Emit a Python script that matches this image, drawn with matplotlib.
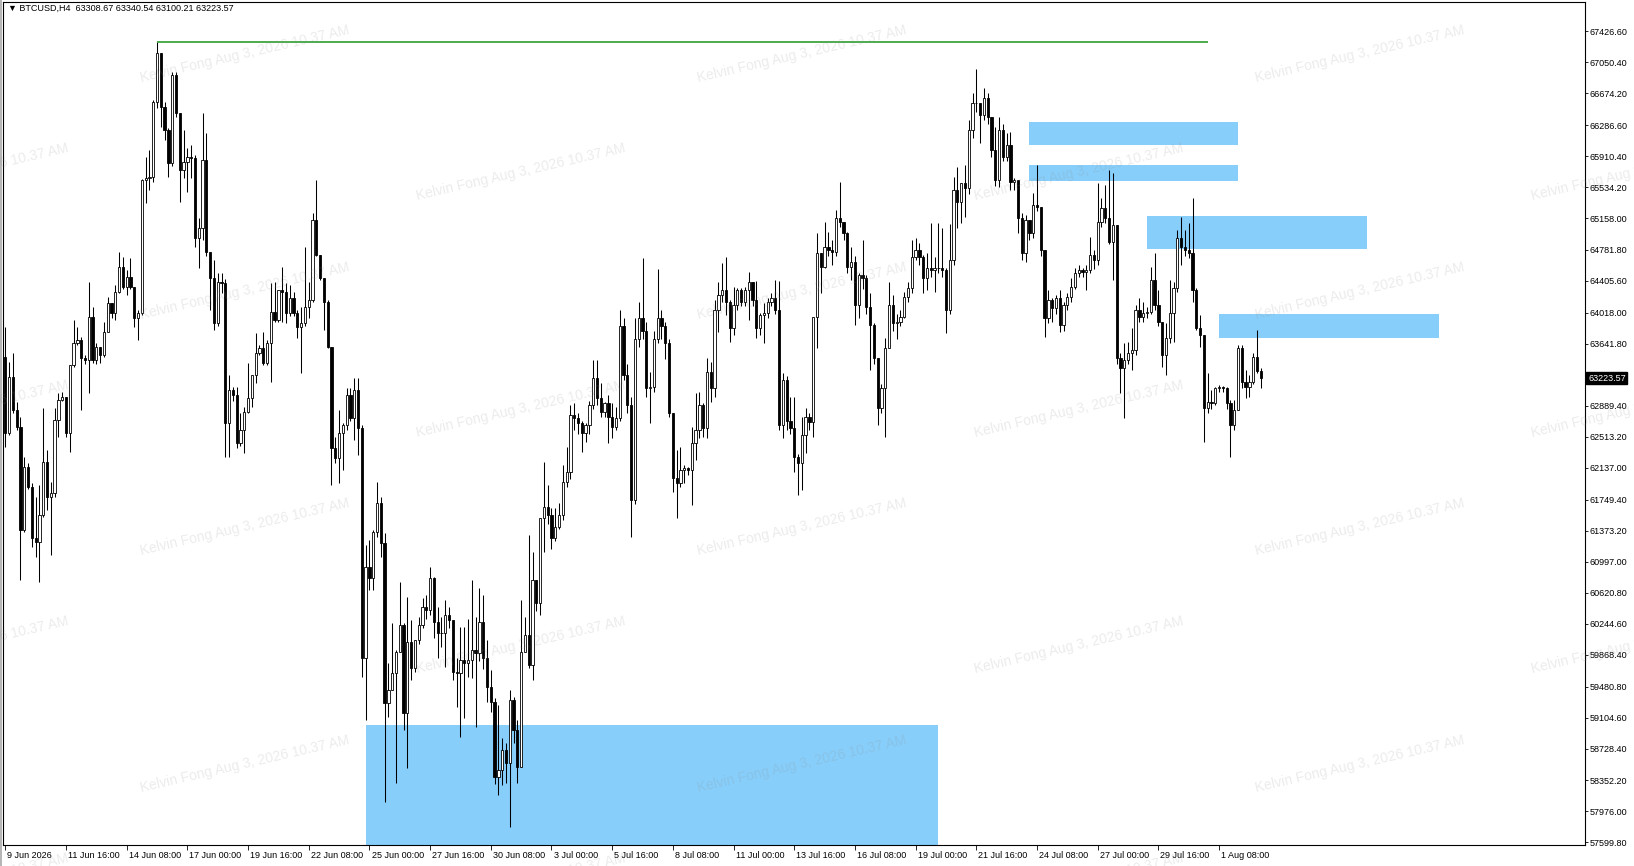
import matplotlib

matplotlib.use("Agg")
import matplotlib.pyplot as plt
import matplotlib.transforms as mtransforms
from matplotlib.lines import Line2D
from matplotlib.patches import Rectangle

FONT = ["Liberation Sans", "DejaVu Sans"]

header = "\u25bc BTCUSD,H4  63308.67 63340.54 63100.21 63223.57"
last_price = 63223.57

# H4 candles from 9 Jun 2026 00:00, one per 4 hours (open = previous close)
first_open = 63483
closes = [
    62554, 63241, 62837, 62635, 61382, 62150, 61908, 61281, 61241, 61564,
    62211, 61786, 61826, 62716, 62958, 62998, 62554, 63382, 63645, 63685,
    63463, 63443, 63968, 63443, 63604, 63503, 63786, 64130, 64009, 64271,
    64574, 64332, 64453, 64332, 63948, 64009, 65624, 65645, 65664, 66573,
    67159, 66513, 66230, 65826, 66897, 66432, 65745, 65846, 65908, 65886,
    64917, 65038, 65866, 64755, 64432, 63887, 64392, 64372, 62675, 63079,
    63019, 62433, 62594, 62817, 62978, 63261, 63524, 63584, 63402, 63645,
    64029, 63928, 64291, 64271, 64009, 64190, 64009, 63847, 63887, 64089,
    64170, 65140, 64715, 64433, 64150, 63604, 62372, 62251, 62554, 62655,
    63019, 62736, 63079, 62615, 59827, 60938, 60797, 61362, 61706, 61221,
    59282, 59443, 59645, 59908, 60231, 59160, 60029, 59706, 60049, 60231,
    60453, 60413, 60796, 60271, 60130, 60130, 60352, 60291, 59665, 59645,
    59807, 59766, 59807, 59928, 59887, 60271, 59827, 59484, 59302, 58393,
    58474, 58716, 58554, 59322, 58958, 58514, 59908, 60110, 59746, 60776,
    60493, 61524, 61665, 61564, 61281, 61423, 61564, 61968, 62089, 62776,
    62736, 62675, 62554, 62655, 62897, 63221, 62978, 62817, 62917, 62756,
    62635, 62736, 63850, 63261, 62897, 61746, 63700, 63950, 63800, 63100,
    63120, 63700, 63950, 63850, 63650, 62796, 62009, 61948, 62110, 62130,
    62110, 62433, 62594, 62897, 62615, 63301, 63100, 64049, 64231, 64291,
    64150, 63827, 64110, 64291, 64150, 64291, 64392, 64170, 63827, 63988,
    64009, 64150, 64190, 64049, 62655, 63200, 62700, 62614, 62271, 62190,
    62534, 62756, 62695, 63968, 64736, 64574, 64816, 64776, 64756, 65160,
    65120, 64978, 64574, 64635, 64110, 64473, 64433, 64089, 63867, 63463,
    62857, 63100, 63584, 64110, 63887, 63900, 63968, 64211, 64311, 64695,
    64776, 64695, 64433, 64554, 64534, 64554, 64554, 64534, 64049, 64655,
    65503, 65362, 65584, 65523, 66230, 66554, 66554, 66412, 66614, 66392,
    65988, 65624, 66230, 65907, 66049, 65604, 65624, 65160, 64736, 65140,
    64978, 65322, 65301, 64776, 63948, 64170, 64069, 64190, 63867, 64110,
    64210, 64332, 64494, 64534, 64514, 64534, 64715, 64655, 65120, 65281,
    65160, 64877, 65079, 63463, 63342, 63443, 63524, 63564, 64049, 63968,
    64009, 64029, 64412, 64110, 63908, 63504, 63706, 64009, 64312, 64917,
    64816, 64776, 64736, 64291, 63827, 63746, 62857, 62938, 62917, 63100,
    63120, 63100, 62917, 62655, 62837, 63584, 63181, 63120, 63181, 63483,
    63308.67, 63223.57,
]
highs = [
    63847, 63423, 63524, 62938, 62756, 62271, 62200, 61948, 61786, 61928,
    62857, 62352, 61968, 62857, 63039, 63060, 62998, 63382, 63928, 63847,
    63726, 63500, 64392, 64089, 63650, 63604, 63908, 64211, 64130, 64352,
    64756, 64695, 64534, 64675, 64332, 64050, 65640, 65907, 65987, 66594,
    67293, 67159, 66573, 66250, 66937, 66937, 66432, 66230, 66008, 66050,
    65927, 65160, 66432, 66190, 64755, 64655, 64500, 64500, 64420, 63261,
    63120, 63120, 62796, 62877, 63402, 63261, 63766, 63625, 63786, 63685,
    64372, 64392, 64291, 64574, 64372, 64352, 64271, 64050, 64089, 64816,
    64392, 65220, 65624, 64715, 64433, 64170, 63604, 62514, 62837, 62675,
    63100, 63100, 63221, 63221, 62650, 61200, 61261, 61383, 61968, 61786,
    61342, 59766, 60251, 59928, 60756, 60251, 60574, 60291, 60049, 60332,
    60554, 60600, 60938, 60817, 60453, 60332, 60534, 60453, 60291, 59827,
    60211, 60211, 60300, 60776, 60332, 60675, 60595, 60050, 59685, 59342,
    59261, 58857, 58796, 59443, 59362, 59080, 60534, 60332, 61321, 61120,
    60776, 61524, 62211, 61928, 61645, 61645, 61706, 62170, 62392, 62897,
    62917, 62800, 62700, 62675, 62950, 63443, 63443, 63160, 62938, 63019,
    62917, 62877, 64050, 63950, 63400, 63000, 63950, 64150, 64674, 63900,
    63300, 63800, 64550, 64050, 63900, 63700, 62796, 62352, 62392, 62170,
    62150, 62635, 63039, 63060, 62917, 63463, 63423, 64170, 64392, 64614,
    64695, 64170, 64332, 64312, 64312, 64330, 64513, 64392, 64400, 64009,
    64130, 64190, 64250, 64412, 64400, 63281, 63250, 63000, 62998, 62300,
    62756, 62857, 62800, 63968, 64978, 64736, 65119, 65000, 64897, 65261,
    65604, 65120, 64998, 64817, 64700, 64494, 64897, 64473, 64250, 63887,
    63463, 63150, 63705, 64392, 64231, 64000, 64050, 64271, 64392, 64900,
    64917, 64857, 64716, 64736, 65100, 64695, 65100, 65038, 64554, 65087,
    65665, 65786, 65584, 65806, 66352, 66675, 66966, 66554, 66735, 66675,
    66392, 66270, 66392, 66300, 66200, 66210, 65650, 65624, 65220, 65200,
    65140, 65463, 65806, 65301, 64776, 64291, 64190, 64230, 64291, 64150,
    64251, 64433, 64554, 64594, 64560, 64594, 64937, 64776, 65584, 65402,
    65564, 65746, 65705, 65079, 63524, 63645, 63665, 63827, 64110, 64190,
    64150, 64089, 64574, 64736, 64291, 63908, 63887, 64412, 64392, 65019,
    65180, 65019, 65099, 65402, 64312, 63988, 63746, 63281, 63079, 63120,
    63140, 63130, 63120, 62958, 62958, 63625, 63625, 63322, 63261, 63524,
    63807, 63340.54,
]
lows = [
    62392, 62534, 62800, 62600, 60776, 61360, 61880, 61180, 61059, 60756,
    61544, 61625, 61079, 61786, 62514, 62940, 62514, 62332, 63362, 63620,
    62837, 63400, 63039, 63402, 63400, 63402, 63483, 63786, 63950, 63928,
    64250, 64300, 64231, 64300, 63847, 63685, 63990, 65341, 65503, 65600,
    66500, 66270, 66109, 65664, 65800, 66392, 65361, 65644, 65483, 65650,
    64816, 64554, 64900, 64700, 64050, 63806, 63850, 64250, 62271, 62271,
    62950, 62372, 62400, 62312, 62800, 62877, 63160, 63500, 63380, 63380,
    63180, 63900, 63900, 63908, 63887, 63980, 63980, 63705, 63281, 63850,
    63948, 64150, 64700, 64413, 63806, 63584, 61928, 62200, 61948, 62110,
    62600, 62700, 62473, 62291, 59605, 59080, 60655, 60655, 61300, 61059,
    58090, 59120, 59443, 58312, 59908, 58958, 58493, 59564, 59660, 60000,
    60191, 60300, 60350, 60069, 59827, 59968, 59726, 60200, 59564, 59241,
    58877, 59100, 59600, 59584, 58998, 59800, 59700, 59300, 59180, 58300,
    58170, 58292, 58312, 57787, 58800, 58312, 58514, 59900, 59706, 59564,
    60400, 60352, 61120, 61450, 61150, 61250, 61400, 61500, 61900, 62000,
    62600, 62550, 62332, 62450, 62550, 62850, 62900, 62750, 62750, 62433,
    62500, 62600, 62700, 63200, 62800, 61301, 61700, 63600, 63700, 63000,
    62675, 63050, 63650, 63700, 63450, 62750, 61847, 61524, 61900, 61948,
    62050, 61686, 62230, 62500, 62514, 62500, 62938, 63000, 63786, 64150,
    63990, 63665, 63750, 64050, 64100, 64100, 63928, 64100, 63706, 63750,
    63645, 63950, 64100, 64000, 62600, 62493, 62600, 62550, 62089, 61807,
    61867, 62311, 62600, 62514, 63584, 64250, 64554, 64700, 64594, 64700,
    65050, 64900, 64500, 64413, 63867, 63948, 64300, 64000, 63322, 63400,
    62655, 62800, 62514, 63584, 63800, 63700, 63850, 63950, 64150, 64250,
    64650, 64600, 64250, 64290, 64450, 64270, 64500, 64450, 63766, 64000,
    64600, 65038, 65100, 65180, 65450, 66130, 66450, 66077, 66350, 66300,
    65900, 65550, 65544, 65850, 65850, 65500, 65500, 64978, 64655, 64634,
    64900, 64917, 65250, 64700, 63726, 63887, 63900, 64000, 63786, 63800,
    64050, 64150, 64300, 64450, 64450, 64290, 64500, 64550, 64600, 65050,
    65100, 64850, 64412, 63400, 63039, 62736, 63400, 63322, 63500, 63900,
    63900, 63950, 64000, 64050, 63850, 63362, 63261, 63650, 63665, 64271,
    64594, 64700, 64675, 64150, 63807, 63604, 62453, 62796, 62850, 62900,
    63050, 63050, 62850, 62271, 62600, 62837, 63100, 62978, 63000, 63150,
    63280, 63100.21,
]

date_ticks = [0, 16, 32, 48, 64, 80, 96, 112, 128, 144, 160,
              176, 192, 208, 224, 240, 256, 272, 288, 304, 320]
date_labels = [
    "9 Jun 2026", "11 Jun 16:00", "14 Jun 08:00", "17 Jun 00:00", "19 Jun 16:00",
    "22 Jun 08:00", "25 Jun 00:00", "27 Jun 16:00", "30 Jun 08:00", "3 Jul 00:00",
    "5 Jul 16:00", "8 Jul 08:00", "11 Jul 00:00", "13 Jul 16:00", "16 Jul 08:00",
    "19 Jul 00:00", "21 Jul 16:00", "24 Jul 08:00", "27 Jul 00:00", "29 Jul 16:00",
    "1 Aug 08:00",
]
price_ticks = [
    67426.60, 67050.40, 66674.20, 66286.60, 65910.40, 65534.20, 65158.00,
    64781.80, 64405.60, 64018.00, 63641.80, 63265.60, 62889.40, 62513.20,
    62137.00, 61749.40, 61373.20, 60997.00, 60620.80, 60244.60, 59868.40,
    59480.80, 59104.60, 58728.40, 58352.20, 57976.00, 57599.80,
]

# supply / demand boxes: bar from, bar to, top price, bottom price
zone_start = [95.1, 270.0, 270.0, 301.0, 319.9]
zone_end = [245.8, 324.9, 324.9, 358.9, 377.9]
zone_top = [59019, 66327, 65806, 65188, 64004]
zone_bottom = [57000, 66052, 65616, 64788, 63709]

# horizontal line from the swing high
level_from = 40
level_to = 317

watermark = "Kelvin Fong Aug 3, 2026 10.37 AM"


def main() -> None:
    plt.rcParams["font.family"] = FONT
    W, H = 1634, 866
    fig = plt.figure(figsize=(W / 100, H / 100), dpi=100)
    fig.patch.set_facecolor("white")

    left_px, right_px, top_px, bottom_px = 3.5, 1585, 2, 845
    ax = fig.add_axes([left_px / W, 1 - bottom_px / H,
                       (right_px - left_px) / W, (bottom_px - top_px) / H])

    n = len(closes)
    assert len(highs) == n and len(lows) == n
    xs = list(range(n))
    opens = [first_open] + closes[:-1]
    hi = [max(h, o, c) for h, o, c in zip(highs, opens, closes)]
    lo = [min(l, o, c) for l, o, c in zip(lows, opens, closes)]

    # zones
    for x0, x1, top, bot in zip(zone_start, zone_end, zone_top, zone_bottom):
        ax.add_patch(Rectangle((x0, bot), x1 - x0, top - bot,
                               facecolor="#87cefa", edgecolor="none", zorder=1))

    ax.hlines(hi[level_from], level_from, level_to, color="#1e951e",
              linewidth=1.1, zorder=4)

    ax.vlines(xs, lo, hi, color="black", linewidth=0.75, zorder=2)
    bottoms = [min(o, c) for o, c in zip(opens, closes)]
    heights = [max(abs(c - o), 8) for o, c in zip(opens, closes)]
    faces = ["white" if c >= o else "black" for o, c in zip(opens, closes)]
    ax.bar(xs, heights, bottom=bottoms, width=0.6, color=faces,
           edgecolor="black", linewidth=0.6, zorder=3)

    px_per_bar = 3.793
    x_left = (left_px - 5.3) / px_per_bar
    ax.set_xlim(x_left, x_left + (right_px - left_px) / px_per_bar)
    ax.set_ylim(67806 - 12.12 * bottom_px, 67806 - 12.12 * top_px)

    ax.yaxis.tick_right()
    ax.set_yticks(price_ticks)
    ax.set_yticklabels([f"{v:.2f}" for v in price_ticks])
    ax.set_xticks(date_ticks)
    ax.set_xticklabels(date_labels)
    ax.tick_params(axis="y", direction="out", length=2, width=0.6, pad=1.5,
                   labelsize=6.5, colors="black")
    ax.tick_params(axis="x", direction="out", length=3.5, width=0.6, pad=1.0,
                   labelsize=6.5, colors="black")
    offset = mtransforms.ScaledTranslation(1.5 / 72, 0, fig.dpi_scale_trans)
    for lab in ax.get_xticklabels():
        lab.set_horizontalalignment("left")
        lab.set_transform(lab.get_transform() + offset)
    for sp in ax.spines.values():
        sp.set_linewidth(0.8)
        sp.set_color("black")

    # current price box on the scale
    trans = mtransforms.blended_transform_factory(ax.transAxes, ax.transData)
    ax.text(1.0 + 3 / (right_px - left_px), last_price, f"{last_price:.2f}",
            transform=trans, ha="left", va="center", fontsize=6.5,
            color="white", zorder=6, clip_on=False,
            bbox=dict(boxstyle="square,pad=0.2", facecolor="black",
                      edgecolor="black"))

    fig.text(8 / W, 1 - 8.5 / H, header, ha="left", va="center",
             fontsize=6.5, color="black")
    fig.add_artist(Line2D([0.8 / W, 0.8 / W], [0, 1], color="#a8a8a8",
                          linewidth=1.2))

    # screenshot watermark
    for row in range(8):
        y = 52 + 113.5 * row
        cols = [235, 770, 1305] if row % 2 == 0 else [-35, 500, 1035, 1570]
        for x in cols:
            fig.text(x * 1.042 / W, 1 - y * 1.042 / H, watermark,
                     ha="center", va="center", rotation=13,
                     rotation_mode="anchor", fontsize=10, color="#8c8c8c",
                     alpha=0.17, zorder=10)

    fig.savefig("out.png", dpi=100, facecolor="white")


if __name__ == "__main__":
    main()
